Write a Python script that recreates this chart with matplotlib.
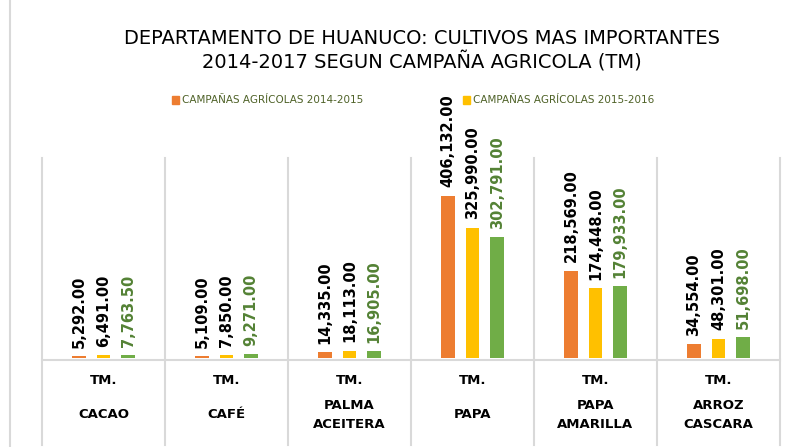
import numpy as np
import matplotlib.pyplot as plt
from matplotlib.lines import Line2D
import matplotlib.transforms as mtransforms

cultivos = ['CACAO', 'CAFÉ', 'PALMA\nACEITERA', 'PAPA', 'PAPA\nAMARILLA', 'ARROZ\nCASCARA']
unidad = 'TM.'
campana_14_15 = [5292.00, 5109.00, 14335.00, 406132.00, 218569.00, 34554.00]
campana_15_16 = [6491.00, 7850.00, 18113.00, 325990.00, 174448.00, 48301.00]
campana_16_17 = [7763.50, 9271.00, 16905.00, 302791.00, 179933.00, 51698.00]
series_labels = ['CAMPAÑAS AGRÍCOLAS 2014-2015', 'CAMPAÑAS AGRÍCOLAS 2015-2016']

colores = ['#ED7D31', '#FFC000', '#70AD47']
label_colors = ['black', 'black', '#548235']
grid_col = '#D9D9D9'

W, H = 796, 447
fig = plt.figure(figsize=(W / 100, H / 100), dpi=100)
ax = fig.add_axes([42 / W, 89 / H, (780 - 42) / W, 200 / H])

x = np.arange(len(cultivos))
width = 0.11
offset = 0.2
for i, vals in enumerate([campana_14_15, campana_15_16, campana_16_17]):
    pos = x + (i - 1) * offset
    ax.bar(pos, vals, width, color=colores[i], zorder=3)
    for p, v in zip(pos, vals):
        ax.annotate(f'{v:,.2f}', (p, v), xytext=(0, 6), textcoords='offset points',
                    rotation=90, ha='center', va='bottom', fontsize=10.5,
                    fontweight='bold', color=label_colors[i])

ax.set_xlim(-0.5, len(cultivos) - 0.5)
ax.set_ylim(0, 500000)
for s in ax.spines.values():
    s.set_visible(False)
ax.set_xticks([])
ax.set_yticks([])

# category separators extending through the label area
trans = mtransforms.blended_transform_factory(ax.transData, ax.transAxes)
for b in np.arange(-0.5, len(cultivos), 1.0):
    ax.add_line(Line2D([b, b], [-0.435, 1.0], transform=trans, color=grid_col,
                       lw=1.5, clip_on=False, zorder=1))
ax.add_line(Line2D([-0.5, len(cultivos) - 0.5], [-0.01, -0.01], transform=trans,
                   color=grid_col, lw=1.5, clip_on=False, zorder=1))

for xi, name in zip(x, cultivos):
    ax.text(xi, -0.115, unidad, transform=trans, ha='center', va='center',
            fontsize=9.5, fontweight='bold')
    ax.text(xi, -0.285, name, transform=trans, ha='center', va='center',
            fontsize=9.5, fontweight='bold', linespacing=1.6)

# chart area border at left
fig.add_artist(Line2D([10 / W, 10 / W], [0, 1], transform=fig.transFigure,
                      color=grid_col, lw=1.5))

fig.text(422 / W, 1 - 38 / H, 'DEPARTAMENTO DE HUANUCO: CULTIVOS MAS IMPORTANTES',
         ha='center', va='center', fontsize=14, fontweight='medium')
fig.text(422 / W, 1 - 62 / H, '2014-2017 SEGUN CAMPAÑA AGRICOLA (TM)',
         ha='center', va='center', fontsize=14, fontweight='medium')

fig.text(182 / W, 1 - 100 / H, series_labels[0], ha='left', va='center',
         fontsize=7.5, color='#4F6228')
fig.text(473 / W, 1 - 100 / H, series_labels[1], ha='left', va='center',
         fontsize=7.5, color='#4F6228')
for xs, c in [(172, colores[0]), (463, colores[1])]:
    fig.add_artist(plt.Rectangle((xs / W, (H - 104) / H), 7 / W, 8 / H,
                                 transform=fig.transFigure, color=c))

fig.savefig('out.png', dpi=100)
